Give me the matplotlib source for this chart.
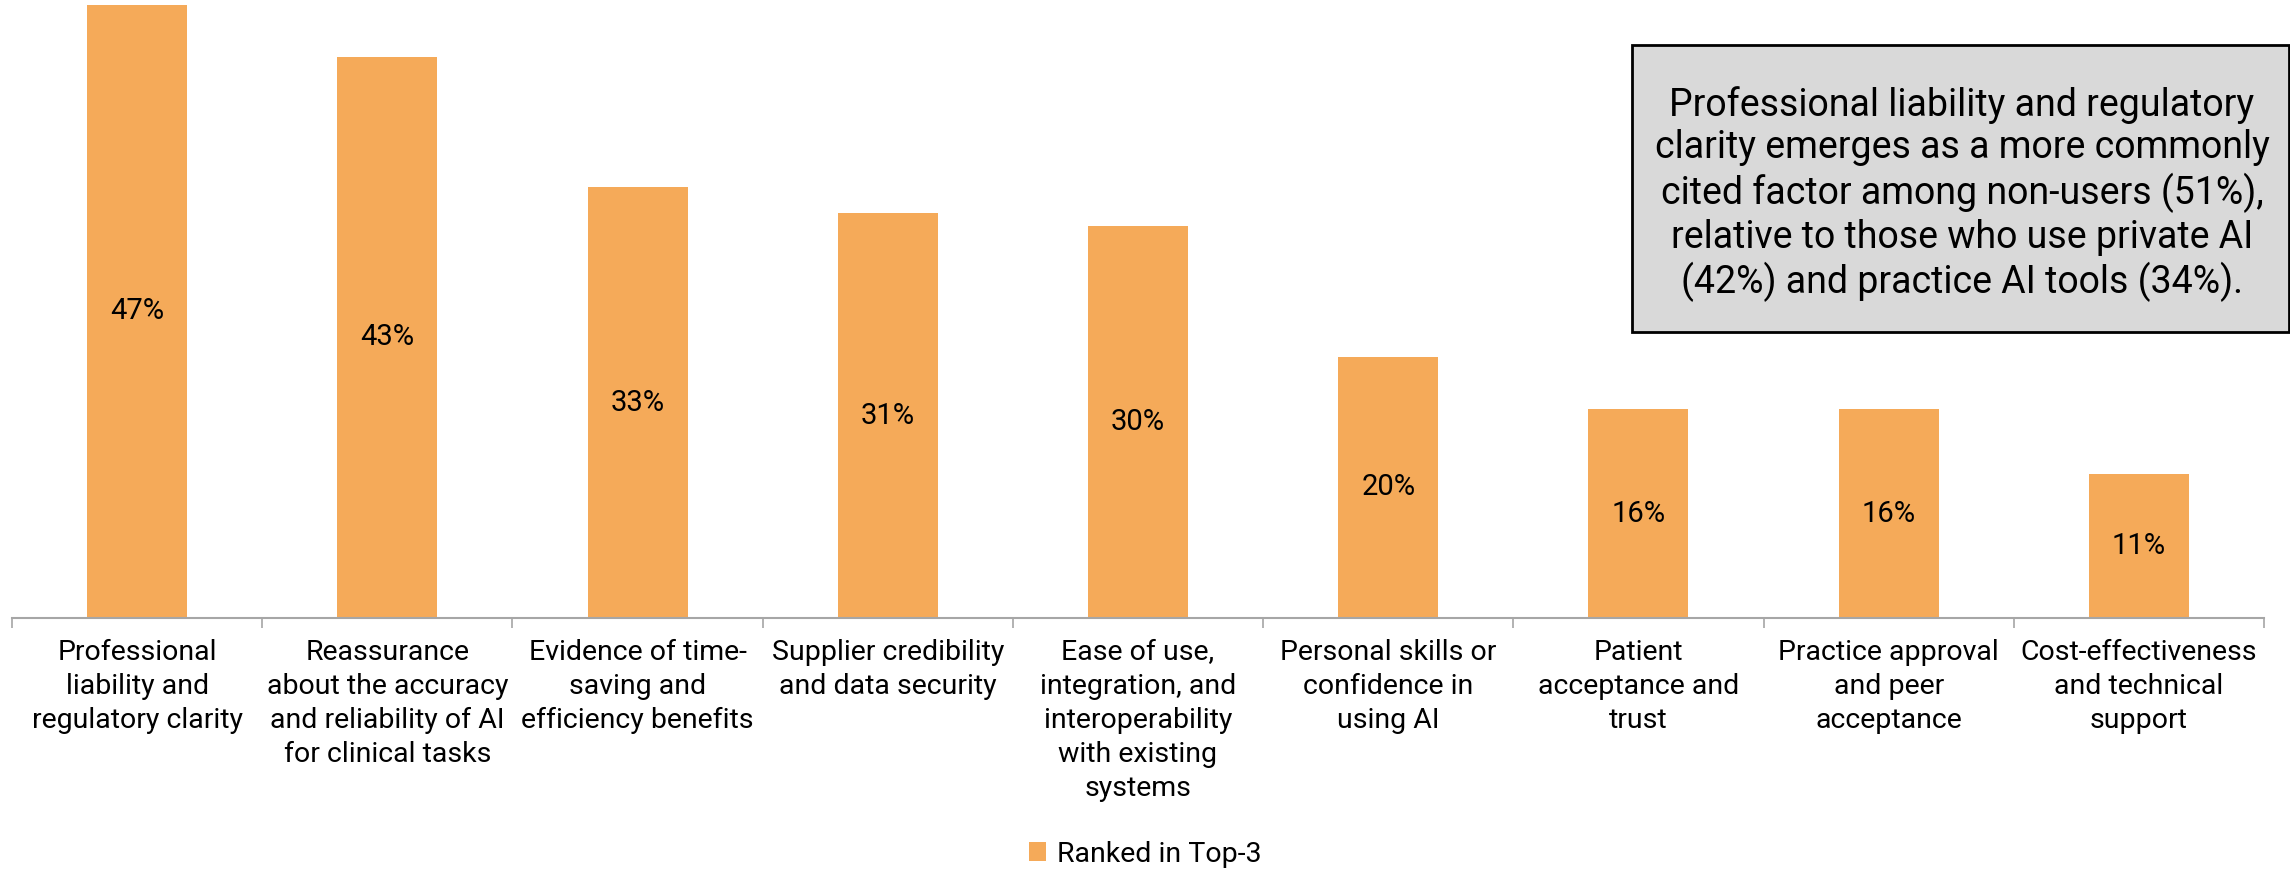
import matplotlib
matplotlib.use("Agg")
import matplotlib.pyplot as plt
import numpy as np
from matplotlib.patches import Patch

plt.rcParams['font.family'] = ['Roboto', 'DejaVu Sans']

# chart data
categories = [
    "Professional\nliability and\nregulatory clarity",
    "Reassurance\nabout the accuracy\nand reliability of AI\nfor clinical tasks",
    "Evidence of time-\nsaving and\nefficiency benefits",
    "Supplier credibility\nand data security",
    "Ease of use,\nintegration, and\ninteroperability\nwith existing\nsystems",
    "Personal skills or\nconfidence in\nusing AI",
    "Patient\nacceptance and\ntrust",
    "Practice approval\nand peer\nacceptance",
    "Cost-effectiveness\nand technical\nsupport",
]
values = [47, 43, 33, 31, 30, 20, 16, 16, 11]
value_labels = ["47%", "43%", "33%", "31%", "30%", "20%", "16%", "16%", "11%"]
series_name = "Ranked in Top-3"
note = ("Professional liability and regulatory\n"
        "clarity emerges as a more commonly\n"
        "cited factor among non-users (51%),\n"
        "relative to those who use private AI\n"
        "(42%) and practice AI tools (34%).")

BAR = "#F5AA59"
W, H = 2290, 869

fig = plt.figure(figsize=(W / 100, H / 100), dpi=100)
# axes placed in pixel terms: baseline at y=618, ~13.05 px per percent
ymax = 48
base = 618
ppp = 13.05
ax = fig.add_axes([12 / W, (H - base) / H, 2252 / W, ymax * ppp / H])

x = np.arange(len(values))
bars = ax.bar(x, values, width=0.4, color=BAR, zorder=2)
for xi, v, lab in zip(x, values, value_labels):
    ax.text(xi, v / 2, lab, ha="center", va="center", fontsize=21, color="black")

ax.set_xlim(-0.5, len(values) - 0.5)
ax.set_ylim(0, ymax)
for s in ["top", "left", "right"]:
    ax.spines[s].set_visible(False)
ax.spines["bottom"].set_color("#A6A6A6")
ax.spines["bottom"].set_linewidth(1.5)
ax.set_yticks([])

ax.set_xticks(x)
ax.set_xticklabels(categories, fontsize=20.5, linespacing=1.33)
ax.tick_params(axis="x", which="major", length=0, pad=15)
ax.set_xticks(np.arange(-0.5, len(values), 1), minor=True)
ax.tick_params(axis="x", which="minor", length=7, width=1.2, color="#A6A6A6")

# note box (runs to the right edge of the figure)
fig.patches.append(plt.Rectangle((1632 / W, (H - 332) / H), 657 / W, 287 / H,
                                 transform=fig.transFigure, facecolor="#D9D9D9",
                                 edgecolor="black", linewidth=2, zorder=5))
fig.text(1962 / W, (H - 194) / H, note, ha="center", va="center",
         fontsize=27, linespacing=1.2, zorder=6)

fig.legend(handles=[Patch(facecolor=BAR, label=series_name)],
           loc="center", bbox_to_anchor=(0.5, (H - 854) / H), frameon=False,
           fontsize=20.5, handlelength=0.6, handleheight=0.6, handletextpad=0.4)

fig.savefig("out.png", dpi=100)
